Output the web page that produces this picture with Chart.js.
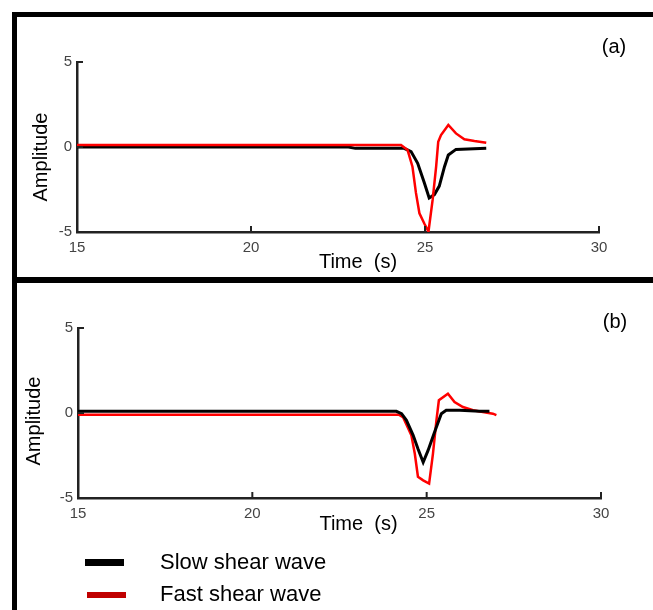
<!DOCTYPE html>
<html>
<head>
<meta charset="utf-8">
<script src="https://cdn.jsdelivr.net/npm/chart.js@4.4.0/dist/chart.umd.min.js"></script>
<style>
  html, body { margin:0; padding:0; background:#fff; overflow:hidden; }
  body { width:653px; height:610px; position:relative; }
  #frame { position:absolute; left:12px; top:12px; width:700px; height:620px;
           border-left:5px solid #000; border-top:5px solid #000; }
  #divider { position:absolute; left:12px; top:277px; width:700px; height:6px; background:#000; }
  canvas { position:absolute; }
  #chartA { left:17px; top:17px; }
  #chartB { left:17px; top:283px; }
</style>
</head>
<body>
<div id="frame"></div>
<div id="divider"></div>
<canvas id="chartA" width="636" height="260"></canvas>
<canvas id="chartB" width="636" height="327"></canvas>
<script>
// ticks
const xTicks = [15, 20, 25, 30];
const yTicks = [-5, 0, 5];
const seriesNames = ["Slow shear wave", "Fast shear wave"];

// panel (a)
const slowTimeA = [15, 22.8, 23.0, 24.4, 24.6, 24.79, 24.98, 25.12, 25.27, 25.41, 25.56, 25.67, 25.89, 26.76];
const slowAmpA  = [0, 0, -0.08, -0.08, -0.27, -0.96, -2.1, -3.0, -2.8, -2.3, -1.16, -0.47, -0.14, -0.08];
const fastTimeA = [15, 24.31, 24.5, 24.64, 24.74, 24.84, 24.98, 25.1, 25.22, 25.32, 25.38, 25.46, 25.67, 25.89, 26.13, 26.42, 26.76];
const fastAmpA  = [0.12, 0.12, -0.18, -1.16, -2.7, -3.9, -4.5, -4.98, -3.1, -1.16, 0.3, 0.7, 1.3, 0.8, 0.45, 0.35, 0.25];

// panel (b)
const slowTimeB = [15, 24.13, 24.28, 24.42, 24.61, 24.75, 24.9, 25.04, 25.23, 25.42, 25.56, 25.95, 26.52, 26.8];
const slowAmpB  = [0.1, 0.1, -0.04, -0.43, -1.3, -2.1, -2.9, -2.2, -1.1, -0.04, 0.16, 0.16, 0.1, 0.1];
const fastTimeB = [15, 24.2, 24.32, 24.56, 24.66, 24.75, 24.9, 25.07, 25.18, 25.28, 25.35, 25.61, 25.8, 26.04, 26.33, 26.61, 26.9, 27.0];
const fastAmpB  = [-0.1, -0.1, -0.24, -1.3, -2.4, -3.75, -3.96, -4.15, -2.4, -0.43, 0.75, 1.14, 0.65, 0.35, 0.16, 0.06, -0.04, -0.12];

const SLOW = "#000000", FAST = "#ff0000";
const textFont = "'Liberation Sans', Arial, sans-serif";
const tickFont = { family: textFont, size: 15 };

function pts(t, v){ return t.map((x,i)=>({x:x, y:v[i]})); }

// inward tick marks, axis titles, panel tag and legend
const decor = {
  id: 'decor',
  afterDraw(chart, args, o){
    const ctx = chart.ctx, a = chart.chartArea, sx = chart.scales.x, sy = chart.scales.y;
    ctx.save();
    ctx.strokeStyle = '#222'; ctx.lineWidth = 2;
    sx.ticks.forEach(t=>{ const px = sx.getPixelForValue(t.value);
      ctx.beginPath(); ctx.moveTo(px, a.bottom); ctx.lineTo(px, a.bottom-6); ctx.stroke(); });
    sy.ticks.forEach(t=>{ const py = sy.getPixelForValue(t.value);
      ctx.beginPath(); ctx.moveTo(a.left, py); ctx.lineTo(a.left+6, py); ctx.stroke(); });
    ctx.fillStyle = '#000';
    ctx.font = '20px ' + textFont;
    ctx.textAlign = 'center'; ctx.textBaseline = 'middle';
    ctx.fillText('Time  (s)', (a.left+a.right)/2 + o.xt[0], a.bottom + o.xt[1]);
    ctx.save();
    ctx.translate(a.left + o.yt[0], (a.top+a.bottom)/2 + o.yt[1]);
    ctx.rotate(-Math.PI/2);
    ctx.fillText('Amplitude', 0, 0);
    ctx.restore();
    ctx.fillText(o.tag, a.right + o.tagPos[0], a.top + o.tagPos[1]);
    if (o.legend){
      ctx.font = '22px ' + textFont;
      ctx.textAlign = 'left';
      o.legend.forEach((it, i)=>{
        ctx.fillStyle = it.color;
        ctx.fillRect(it.box[0], it.box[1], it.box[2], it.box[3]);
        ctx.fillStyle = '#000';
        ctx.fillText(seriesNames[i], it.text[0], it.text[1]);
      });
    }
    ctx.restore();
  }
};

function makeChart(id, datasets, yWidth, pad, decorOpts){
  return new Chart(document.getElementById(id).getContext('2d'), {
    type: 'line',
    data: { datasets: datasets },
    options: {
      responsive: false,
      animation: false,
      devicePixelRatio: 1,
      layout: { padding: pad },
      plugins: { legend: { display: false }, tooltip: { enabled: false }, decor: decorOpts },
      elements: { point: { radius: 0 }, line: { tension: 0 } },
      scales: {
        x: {
          type: 'linear', min: 15, max: 30,
          afterBuildTicks: s => { s.ticks = xTicks.map(v=>({value:v})); },
          afterFit: s => { s.height = 45; },
          grid: { display: false, drawTicks: false },
          border: { display: true, color: '#222', width: 2.5 },
          ticks: { font: tickFont, color: '#444', padding: 7, maxRotation: 0 }
        },
        y: {
          type: 'linear', min: -5, max: 5,
          afterBuildTicks: s => { s.ticks = yTicks.map(v=>({value:v})); },
          afterFit: s => { s.width = yWidth; },
          grid: { display: false, drawTicks: false },
          border: { display: true, color: '#222', width: 2.5 },
          ticks: { font: tickFont, color: '#444', padding: 5 }
        }
      }
    },
    plugins: [decor]
  });
}

makeChart('chartA', [
  { label: seriesNames[1], data: pts(fastTimeA, fastAmpA), borderColor: FAST, borderWidth: 2.5 },
  { label: seriesNames[0], data: pts(slowTimeA, slowAmpA), borderColor: SLOW, borderWidth: 3 }
], 60, { top: 45, right: 54, left: 0, bottom: 0 },
  { tag: '(a)', tagPos: [15, -15], xt: [20, 30], yt: [-36, 10] });

makeChart('chartB', [
  { label: seriesNames[0], data: pts(slowTimeB, slowAmpB), borderColor: SLOW, borderWidth: 3 },
  { label: seriesNames[1], data: pts(fastTimeB, fastAmpB), borderColor: FAST, borderWidth: 2.5 }
], 61, { top: 45, right: 52, left: 0, bottom: 67 },
  { tag: '(b)', tagPos: [14, -6], xt: [19, 26], yt: [-43.5, 8],
    legend: [ { color: '#000000', box: [68, 276, 39, 7], text: [143, 280] },
              { color: '#c00000', box: [70, 309, 39, 6], text: [143, 312] } ] });
</script>
</body>
</html>
